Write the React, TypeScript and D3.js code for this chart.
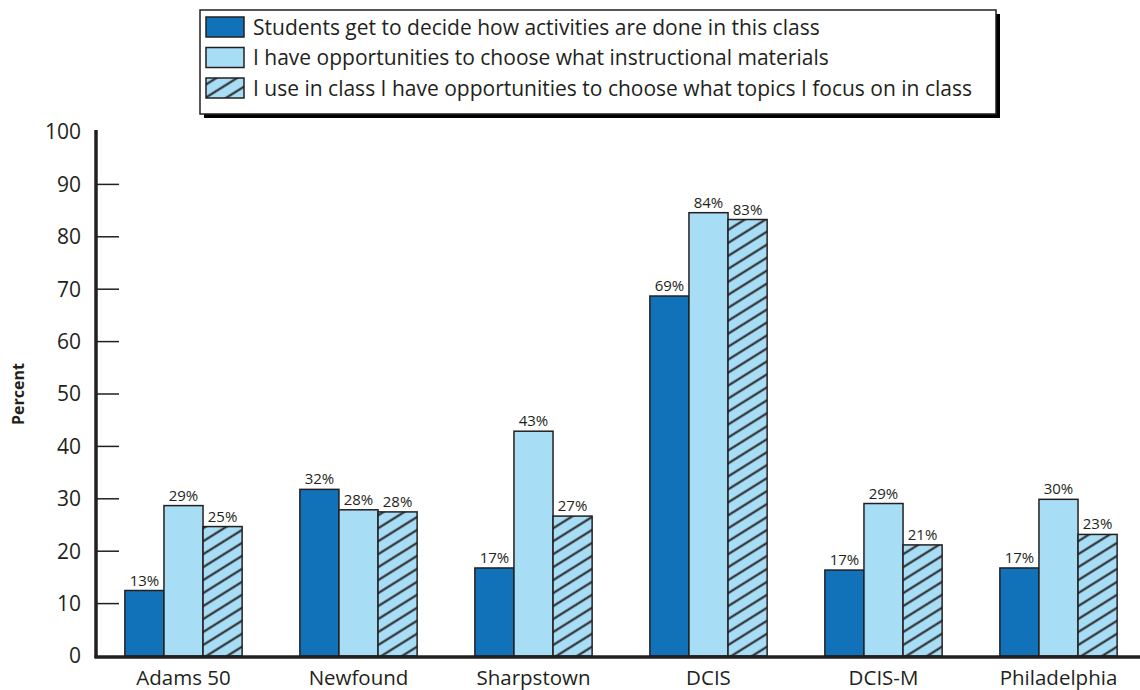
import * as d3 from "d3";

const schools = ["Adams 50", "Newfound", "Sharpstown", "DCIS", "DCIS-M", "Philadelphia"];
const seriesNames = [
  "Students get to decide how activities are done in this class",
  "I have opportunities to choose what instructional materials",
  "I use in class I have opportunities to choose what topics I focus on in class",
];
const decideActivities = [12.5, 31.8, 16.8, 68.7, 16.4, 16.8];
const chooseMaterials = [28.7, 27.9, 42.9, 84.6, 29.1, 29.9];
const chooseTopics = [24.7, 27.5, 26.7, 83.3, 21.2, 23.2];
const decideLabels = ["13%", "32%", "17%", "69%", "17%", "17%"];
const materialsLabels = ["29%", "28%", "43%", "84%", "29%", "30%"];
const topicsLabels = ["25%", "28%", "27%", "83%", "21%", "23%"];
const yTicks = [0, 10, 20, 30, 40, 50, 60, 70, 80, 90, 100];

const W = 1140;
const H = 690;
const m = { left: 96, top: 132, bottom: 656, right: 1146 };
const font = "'Open Sans', 'Noto Sans', sans-serif";
const dark = "#1172b9";
const light = "#a8ddf6";
const ink = "#231f20";

const series = [
  { key: "a", values: decideActivities, labels: decideLabels, fill: dark },
  { key: "b", values: chooseMaterials, labels: materialsLabels, fill: light },
  { key: "c", values: chooseTopics, labels: topicsLabels, fill: "url(#hatch)" },
];

export default function App() {
  const x = d3.scaleBand().domain(schools).range([m.left, m.right]).paddingInner(0.33).paddingOuter(0.165);
  const xs = d3.scaleBand().domain(series.map((s) => s.key)).range([0, x.bandwidth()]);
  const y = d3.scaleLinear().domain([0, 100]).range([m.bottom, m.top]);

  return (
    <svg width={W} height={H} style={{ position: "absolute", left: 0, top: 0 }} fontFamily={font}>
      <defs>
        <pattern id="hatch" width="12" height="11" patternUnits="userSpaceOnUse" patternTransform="rotate(-32)">
          <rect width="12" height="11" fill={light} />
          <line x1="0" y1="5.5" x2="12" y2="5.5" stroke={ink} strokeWidth="2" />
        </pattern>
      </defs>
      <rect width={W} height={H} fill="#fff" />

      {/* legend */}
      <rect x={204} y={14} width={796} height={104} fill="#000" />
      <rect x={200} y={10} width={796} height={104} fill="#fff" stroke={ink} strokeWidth={1.5} />
      {series.map((s, i) => (
        <g key={s.key} transform={`translate(206,${17 + i * 30.5})`}>
          <rect width={38} height={20} fill={s.fill} stroke={ink} strokeWidth={1.5} />
          <text x={47} y={17.5} fontSize={21} fill={ink}>
            {seriesNames[i]}
          </text>
        </g>
      ))}

      {/* y ticks and labels */}
      {yTicks.map((t) => (
        <g key={t}>
          {t > 0 && t < 100 && <line x1={m.left} x2={119} y1={y(t)} y2={y(t)} stroke={ink} strokeWidth={1.5} />}
          <text x={81} y={y(t)} dy="0.35em" textAnchor="end" fontSize={21} fill={ink}>
            {t}
          </text>
        </g>
      ))}
      <text transform={`translate(24,${(m.top + m.bottom) / 2}) rotate(-90)`} textAnchor="middle" fontSize={16} fontWeight="bold" fill={ink}>
        Percent
      </text>

      {/* bars */}
      {schools.map((sc, i) => (
        <g key={sc} transform={`translate(${x(sc)},0)`}>
          {series.map((s) => {
            const bx = xs(s.key)!;
            const top = y(s.values[i]);
            return (
              <g key={s.key}>
                <rect x={bx} y={top} width={xs.bandwidth()} height={m.bottom - top} fill={s.fill} stroke={ink} strokeWidth={1.5} />
                <text x={bx + xs.bandwidth() / 2} y={top - 5} textAnchor="middle" fontSize={15} fill={ink}>
                  {s.labels[i]}
                </text>
              </g>
            );
          })}
          <text x={x.bandwidth() / 2} y={685} textAnchor="middle" fontSize={20.5} fill={ink}>
            {sc}
          </text>
        </g>
      ))}

      {/* axes lines */}
      <line x1={m.left} x2={m.left} y1={130} y2={658} stroke={ink} strokeWidth={3.5} />
      <line x1={m.left - 1.5} x2={W} y1={657} y2={657} stroke={ink} strokeWidth={3.5} />
    </svg>
  );
}
